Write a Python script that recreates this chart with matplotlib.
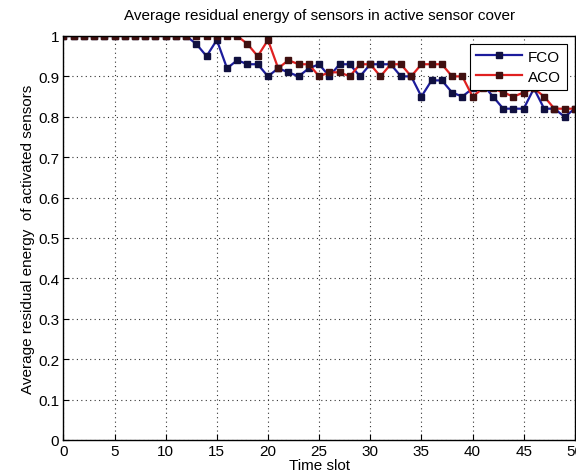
import matplotlib
matplotlib.use("Agg")
import matplotlib.pyplot as plt

# time slots 0..50
time_slot = list(range(51))

fco = [1.0, 1.0, 1.0, 1.0, 1.0, 1.0, 1.0, 1.0, 1.0, 1.0,
       1.0, 1.0, 1.0, 0.98, 0.95, 0.99, 0.92, 0.94, 0.93, 0.93,
       0.90, 0.92, 0.91, 0.90, 0.92, 0.93, 0.90, 0.93, 0.93, 0.90,
       0.93, 0.93, 0.93, 0.90, 0.90, 0.85, 0.89, 0.89, 0.86, 0.85,
       0.87, 0.88, 0.85, 0.82, 0.82, 0.82, 0.87, 0.82, 0.82, 0.80,
       0.82]

aco = [1.0, 1.0, 1.0, 1.0, 1.0, 1.0, 1.0, 1.0, 1.0, 1.0,
       1.0, 1.0, 1.0, 1.0, 1.0, 1.0, 1.0, 1.0, 0.98, 0.95,
       0.99, 0.92, 0.94, 0.93, 0.93, 0.90, 0.91, 0.91, 0.90, 0.93,
       0.93, 0.90, 0.93, 0.93, 0.90, 0.93, 0.93, 0.93, 0.90, 0.90,
       0.85, 0.87, 0.87, 0.86, 0.85, 0.86, 0.87, 0.85, 0.82, 0.82,
       0.82]

x_ticks = list(range(0, 51, 5))
y_ticks = [i / 10 for i in range(11)]
y_tick_labels = ["0", "0.1", "0.2", "0.3", "0.4", "0.5", "0.6", "0.7", "0.8", "0.9", "1"]

plt.rcParams["font.family"] = ["Liberation Sans", "DejaVu Sans"]

fig = plt.figure(figsize=(5.76, 4.77), dpi=100)
ax = fig.add_axes([0.110, 0.0755, 0.888, 0.847])

ax.plot(time_slot, fco, color="#1c1c9c", linewidth=1.6, marker="s",
        markersize=5, markerfacecolor="#101040", markeredgecolor="#101040",
        label="FCO")
ax.plot(time_slot, aco, color="#e02020", linewidth=1.6, marker="s",
        markersize=5, markerfacecolor="#401010", markeredgecolor="#401010",
        label="ACO")

ax.set_xlim(0, 50)
ax.set_ylim(0, 1)
ax.set_xticks(x_ticks)
ax.set_yticks(y_ticks)
ax.set_yticklabels(y_tick_labels)
ax.tick_params(direction="in", length=4, labelsize=11, colors="black", pad=3)
ax.grid(True, linestyle=(0, (1, 3)), color="#333333", linewidth=0.8)
for s in ax.spines.values():
    s.set_linewidth(1.0)

ax.set_title("Average residual energy of sensors in active sensor cover",
             fontsize=11, pad=12)
ax.set_xlabel("Time slot", fontsize=11, labelpad=0)
ax.set_ylabel("Average residual energy  of activated sensors", fontsize=11, labelpad=2)

leg = ax.legend(loc="upper right", fontsize=11, handlelength=3.0,
                fancybox=False, framealpha=1, edgecolor="black",
                borderaxespad=0.5, labelspacing=0.4, handletextpad=0.4)
leg.get_frame().set_linewidth(0.8)

fig.savefig("out.png", dpi=100)
